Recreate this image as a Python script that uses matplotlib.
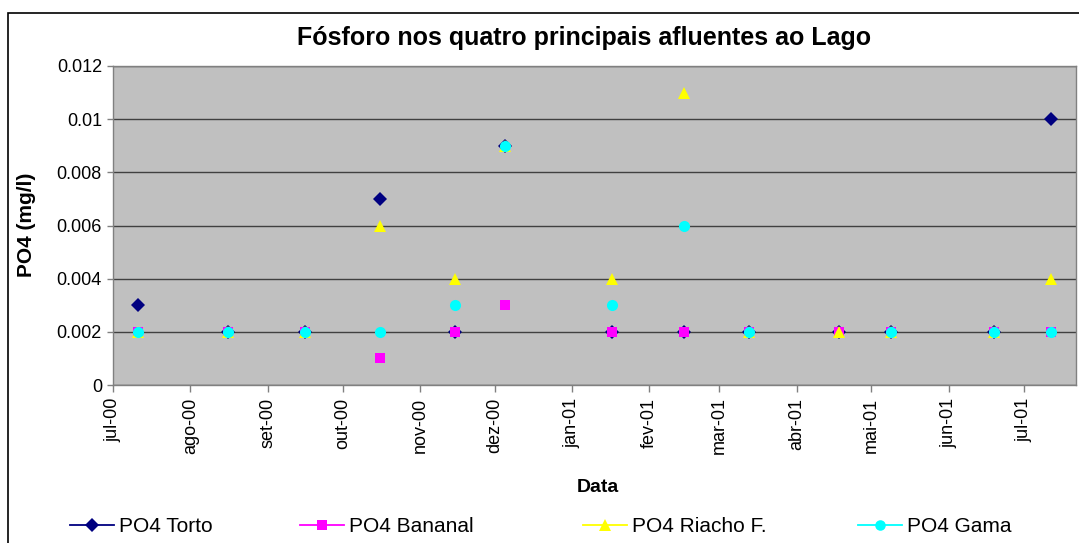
import pandas as pd
import numpy as np
import matplotlib
matplotlib.use("Agg")
import matplotlib.pyplot as plt
from matplotlib.lines import Line2D
from matplotlib.patches import Rectangle

plt.rcParams['font.family'] = ['Liberation Sans', 'DejaVu Sans']

# sampling dates
datas = ['2000-07-11', '2000-08-16', '2000-09-16', '2000-10-16', '2000-11-15',
         '2000-12-05', '2001-01-17', '2001-02-15', '2001-03-13', '2001-04-18',
         '2001-05-09', '2001-06-19', '2001-07-12']

po4_torto = [0.003, 0.002, 0.002, 0.007, 0.002, 0.009, 0.002, 0.002, 0.002, 0.002, 0.002, 0.002, 0.010]
po4_bananal = [0.002, 0.002, 0.002, 0.001, 0.002, 0.003, 0.002, 0.002, 0.002, 0.002, 0.002, 0.002, 0.002]
po4_riacho = [0.002, 0.002, 0.002, 0.006, 0.004, 0.009, 0.004, 0.011, 0.002, 0.002, 0.002, 0.002, 0.004]
po4_gama = [0.002, 0.002, 0.002, 0.002, 0.003, 0.009, 0.003, 0.006, 0.002, np.nan, 0.002, 0.002, 0.002]

meses = ['jul-00', 'ago-00', 'set-00', 'out-00', 'nov-00', 'dez-00', 'jan-01',
         'fev-01', 'mar-01', 'abr-01', 'mai-01', 'jun-01', 'jul-01']
y_ticks = [0, 0.002, 0.004, 0.006, 0.008, 0.01, 0.012]
y_labels = ['0', '0.002', '0.004', '0.006', '0.008', '0.01', '0.012']

x = pd.to_datetime(datas)
month_starts = pd.date_range('2000-07-01', periods=len(meses), freq='MS')

series = [
    ('PO4 Torto', po4_torto, 'D', '#000080', 7.5),
    ('PO4 Bananal', po4_bananal, 's', '#FF00FF', 7.5),
    ('PO4 Riacho F.', po4_riacho, '^', '#FFFF00', 9),
    ('PO4 Gama', po4_gama, 'o', '#00FFFF', 8),
]

fig = plt.figure(figsize=(10.79, 5.43), dpi=100)
ax = fig.add_axes([113 / 1079, 1 - 385 / 543, (1076 - 113) / 1079, (385 - 66) / 543])
ax.set_facecolor('#C0C0C0')

for name, vals, mk, col, ms in series:
    ax.plot(x, vals, linestyle='none', marker=mk, color=col, markersize=ms,
            markeredgewidth=0, zorder=3)

ax.set_ylim(0, 0.012)
ax.set_yticks(y_ticks)
ax.set_yticklabels(y_labels, fontsize=13)
ax.set_xlim(pd.Timestamp('2000-07-01'), pd.Timestamp('2001-07-22'))
ax.set_xticks(month_starts)
ax.set_xticklabels(meses, rotation=90, fontsize=13)
ax.tick_params(axis='x', length=5, width=1, color='#808080', pad=4)
ax.tick_params(axis='y', length=4, width=1, color='#808080', pad=4)

ax.yaxis.grid(True, color='#404040', linewidth=1)
ax.set_axisbelow(True)
for s in ax.spines.values():
    s.set_color('#808080')
    s.set_linewidth(1)

fig.text(27 / 1079, 1 - 225 / 543, 'PO4 (mg/l)', rotation=90, ha='center', va='center',
         fontsize=15, fontweight='bold')
fig.text(598 / 1079, 1 - 488 / 543, 'Data', ha='center', va='center',
         fontsize=14, fontweight='bold')
fig.text(584 / 1079, 1 - 38 / 543, 'Fósforo nos quatro principais afluentes ao Lago',
         ha='center', va='center', fontsize=18, fontweight='bold')

# legend, spread out like the original
leg_x = [70, 300, 583, 858]
for (name, vals, mk, col, ms), lx in zip(series, leg_x):
    h = Line2D([], [], color=col, marker=mk, markersize=ms * 0.95, markeredgewidth=0, linewidth=1.3)
    fig.legend(handles=[h], labels=[name], loc='center left',
               bbox_to_anchor=(lx / 1079, 1 - 527 / 543), frameon=False,
               fontsize=15, handlelength=2.1, handletextpad=0.25,
               borderaxespad=0, borderpad=0)

fig.add_artist(Rectangle((8 / 1079, -0.05), 1.0, 1.05 - 13 / 543, transform=fig.transFigure,
                         fill=False, edgecolor='black', linewidth=1.2, clip_on=False))

fig.savefig('out.png', dpi=100)
